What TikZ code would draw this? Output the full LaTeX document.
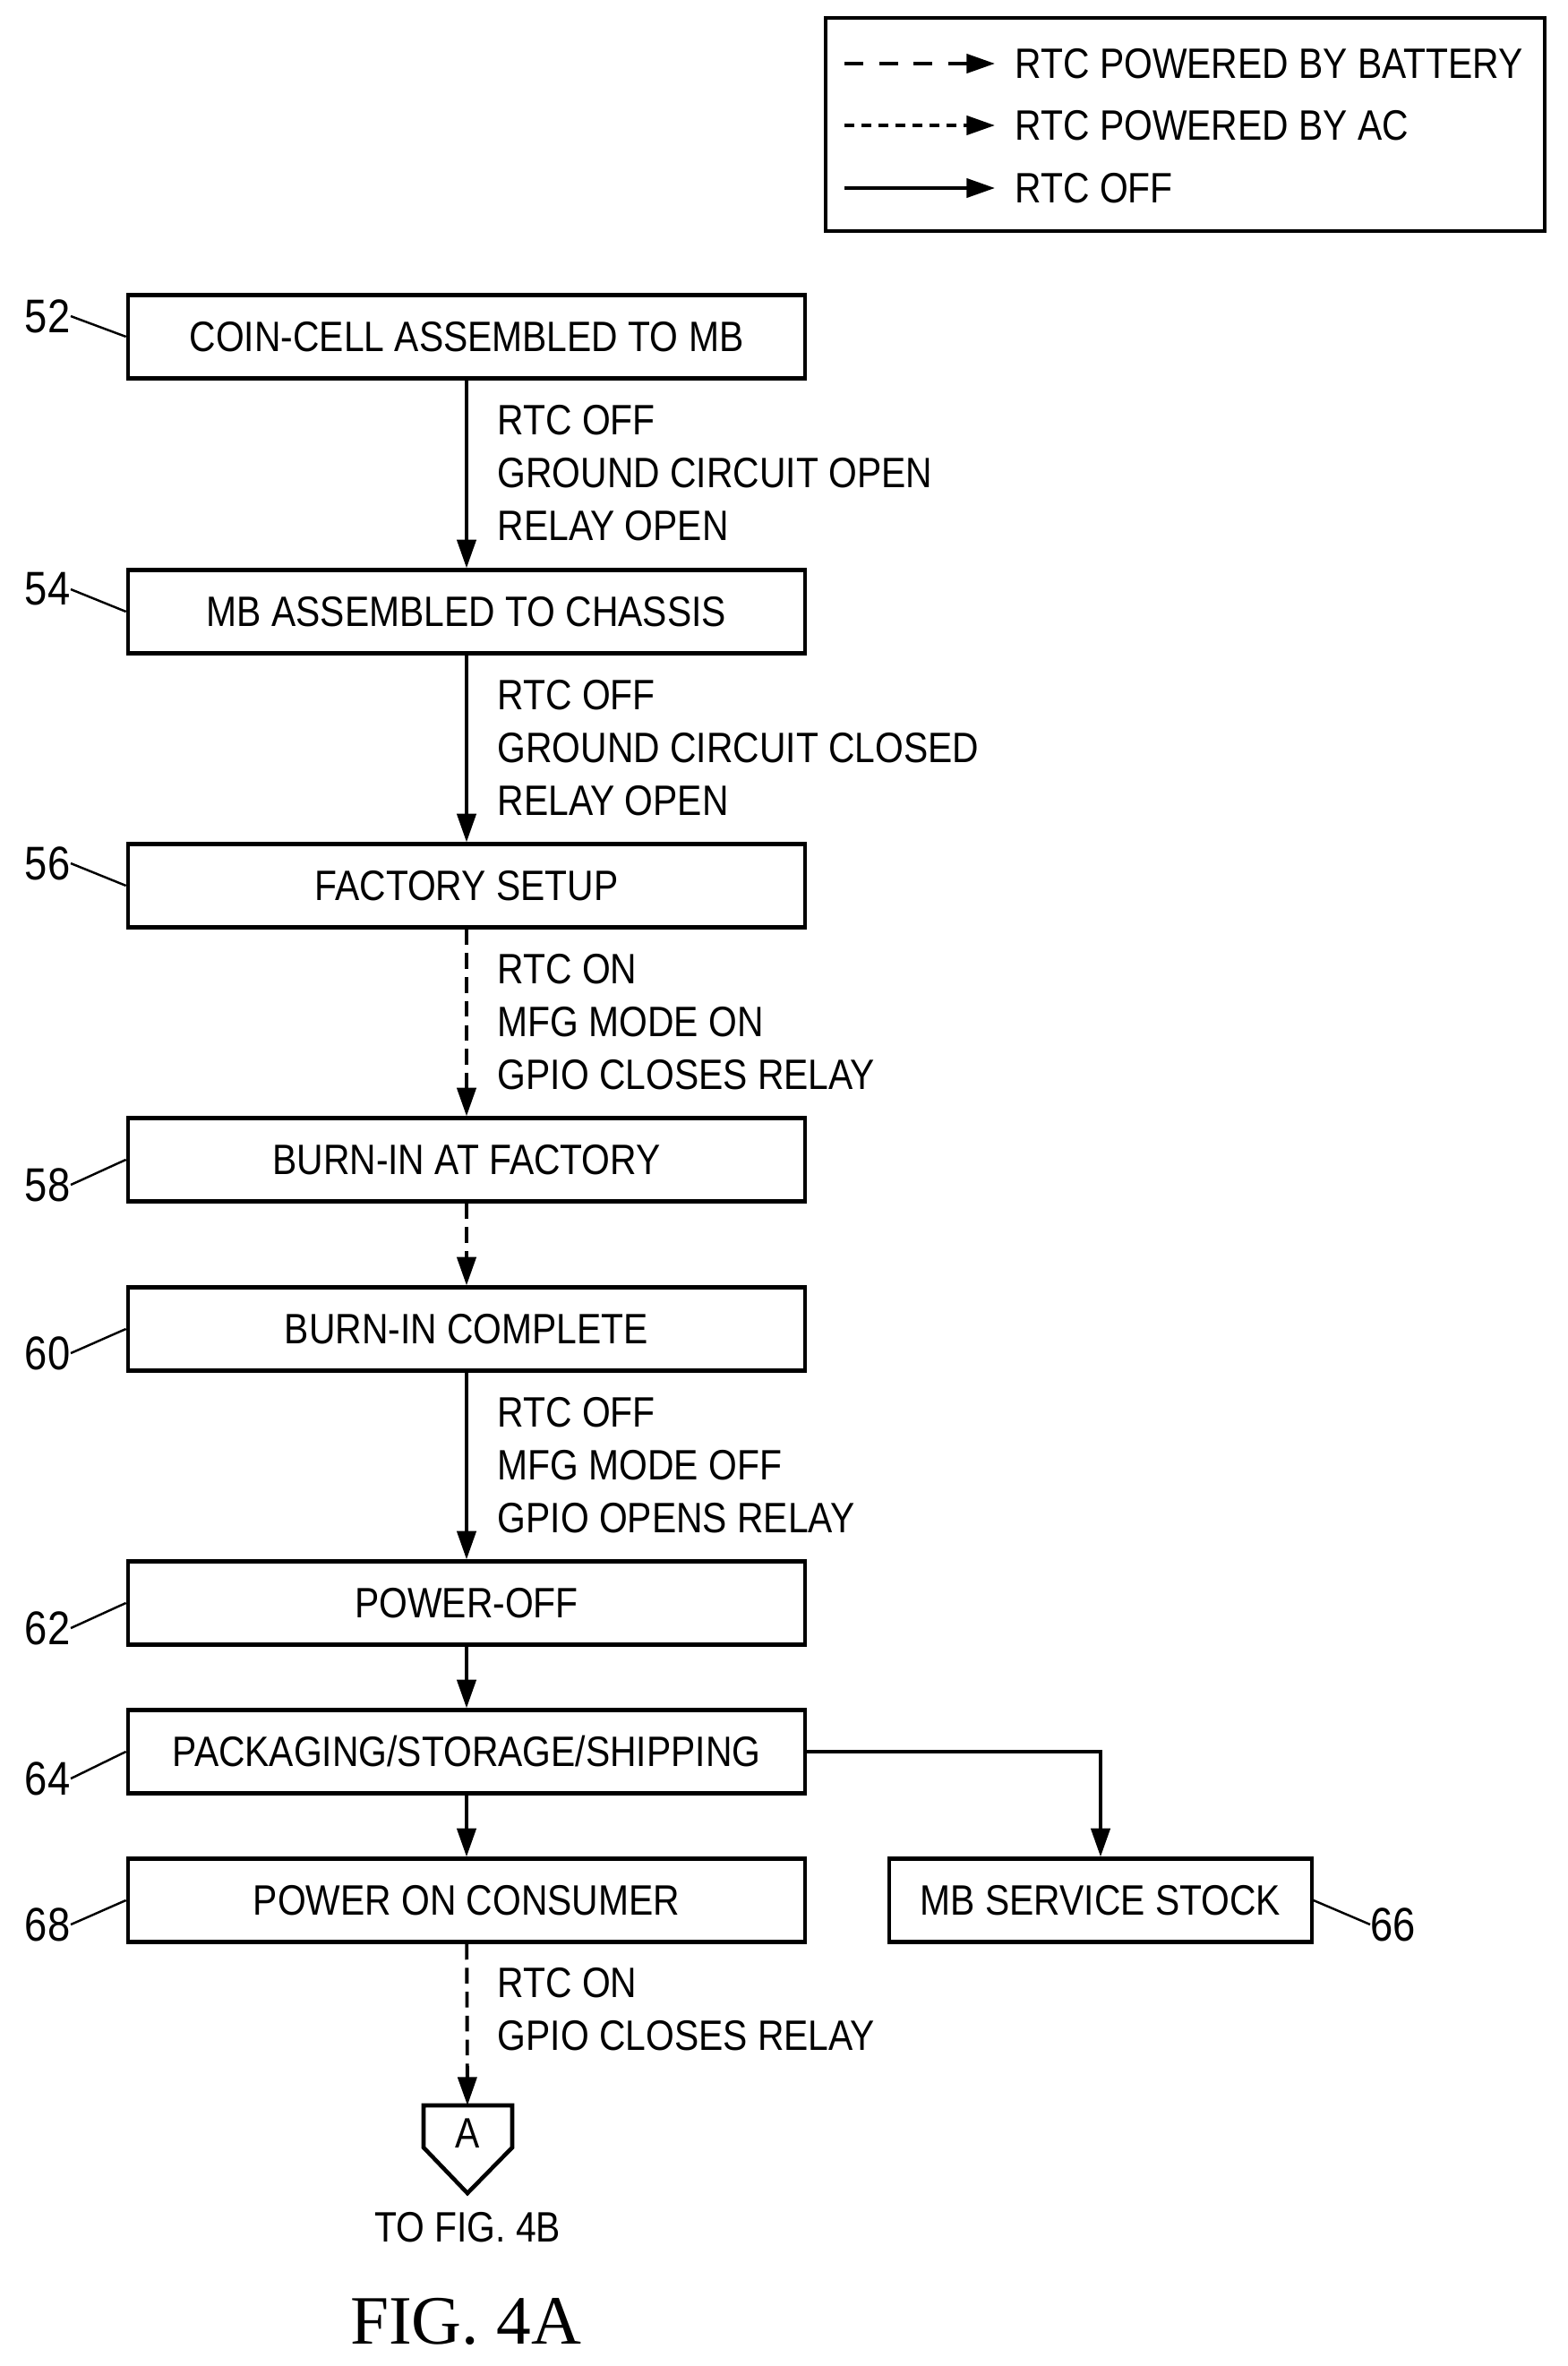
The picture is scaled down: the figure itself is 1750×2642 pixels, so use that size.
\documentclass[tikz,border=0pt]{standalone}
\usepackage{fontspec}
\setmainfont{Liberation Sans}[FakeStretch=0.86]
\newfontfamily\figfont{Liberation Serif}
\usetikzlibrary{arrows.meta}
\tikzset{
  box/.style={draw,line width=1.2pt,minimum width=7.56cm,minimum height=0.93cm,inner sep=0pt,font=\fontsize{13.5}{16}\selectfont},
  lbl/.style={anchor=north west,inner sep=0pt,align=left,font=\fontsize{13.5}{16.7}\selectfont},
  num/.style={inner sep=0pt,font=\fontsize{15}{18}\selectfont},
  flow/.style={line width=1.1pt,-{Triangle[length=9pt,width=6pt]}},
  rtcon/.style={flow,dash pattern=on 5pt off 2.6pt},
  battery/.style={flow,dash pattern=on 6pt off 5pt},
  ac/.style={flow,dash pattern=on 3.2pt off 2.2pt},
  squig/.style={line width=0.7pt}
}
\newcommand\refnum[5]{
  \node[num,anchor=east] (#1) at (#3,#4) {#2};
  \draw[squig] (#1.east) .. controls +(0.15,0.12) and +(-0.2,-0.14) .. (#5);
}
\begin{document}
\begin{tikzpicture}[x=0.01cm,y=-0.01cm]
\useasboundingbox (0,0) rectangle (1750,2642);

% legend
\draw[line width=1.3pt] (922,20) rectangle (1725,258);
\foreach \s/\y/\t in {battery/71/RTC POWERED BY BATTERY,ac/140/RTC POWERED BY AC,flow/210/RTC OFF}
{
  \coordinate (l\y) at (943,\y);
  \coordinate (r\y) at (1111,\y);
  \draw[\s] (l\y) -- (r\y);
  \node[lbl,anchor=west] at (1133,\y) {\t};
}

% boxes
\node[box] (coin) at (521,376) {COIN-CELL ASSEMBLED TO MB};
\node[box] (chassis) at (521,683) {MB ASSEMBLED TO CHASSIS};
\node[box] (setup) at (521,989) {FACTORY SETUP};
\node[box] (burnin) at (521,1295) {BURN-IN AT FACTORY};
\node[box] (burndone) at (521,1484) {BURN-IN COMPLETE};
\node[box] (poweroff) at (521,1790) {POWER-OFF};
\node[box] (packing) at (521,1956) {PACKAGING/STORAGE/SHIPPING};
\node[box] (consumer) at (521,2122) {POWER ON CONSUMER};
\node[box,minimum width=4.71cm] (stock) at (1229,2122) {MB SERVICE STOCK};

% connectors
\draw[flow] (coin) -- (chassis);
\draw[flow] (chassis) -- (setup);
\draw[rtcon] (setup) -- (burnin);
\draw[rtcon] (burnin) -- (burndone);
\draw[flow] (burndone) -- (poweroff);
\draw[flow] (poweroff) -- (packing);
\draw[flow] (packing) -- (consumer);
\draw[flow] (packing.east) -| (stock.north);

% off-page connector
\node[inner sep=0pt,font=\fontsize{13.5}{16}\selectfont] (offA) at (522,2382) {A};
\draw[line width=1.3pt] (473,2351) -- (572,2351) -- (572,2398) -- (522,2449) -- (473,2398) -- cycle;
\coordinate (offtop) at (522,2351);
\draw[rtcon] (consumer) -- (offtop);
\node[inner sep=0pt,font=\fontsize{13.5}{16}\selectfont] (tofig) at (522,2487) {TO FIG. 4B};

% state labels
\node[lbl] at (555,452) {RTC OFF\\GROUND CIRCUIT OPEN\\RELAY OPEN};
\node[lbl] at (555,759) {RTC OFF\\GROUND CIRCUIT CLOSED\\RELAY OPEN};
\node[lbl] at (555,1065) {RTC ON\\MFG MODE ON\\GPIO CLOSES RELAY};
\node[lbl] at (555,1560) {RTC OFF\\MFG MODE OFF\\GPIO OPENS RELAY};
\node[lbl] at (555,2197) {RTC ON\\GPIO CLOSES RELAY};

% reference numerals
\refnum{n52}{52}{79}{353}{coin.west}
\refnum{n54}{54}{79}{658}{chassis.west}
\refnum{n56}{56}{79}{964}{setup.west}
\refnum{n58}{58}{79}{1323}{burnin.west}
\refnum{n60}{60}{79}{1511}{burndone.west}
\refnum{n62}{62}{79}{1818}{poweroff.west}
\refnum{n64}{64}{79}{1986}{packing.west}
\refnum{n68}{68}{79}{2149}{consumer.west}
\node[num,anchor=west] (n66) at (1530,2149) {66};
\draw[squig] (stock.east) .. controls +(0.2,0.02) and +(-0.15,-0.12) .. (n66.west);

\node[inner sep=0pt,font=\figfont\fontsize{22}{26}\selectfont] (fig) at (520,2592) {FIG. 4A};
\end{tikzpicture}
\end{document}
